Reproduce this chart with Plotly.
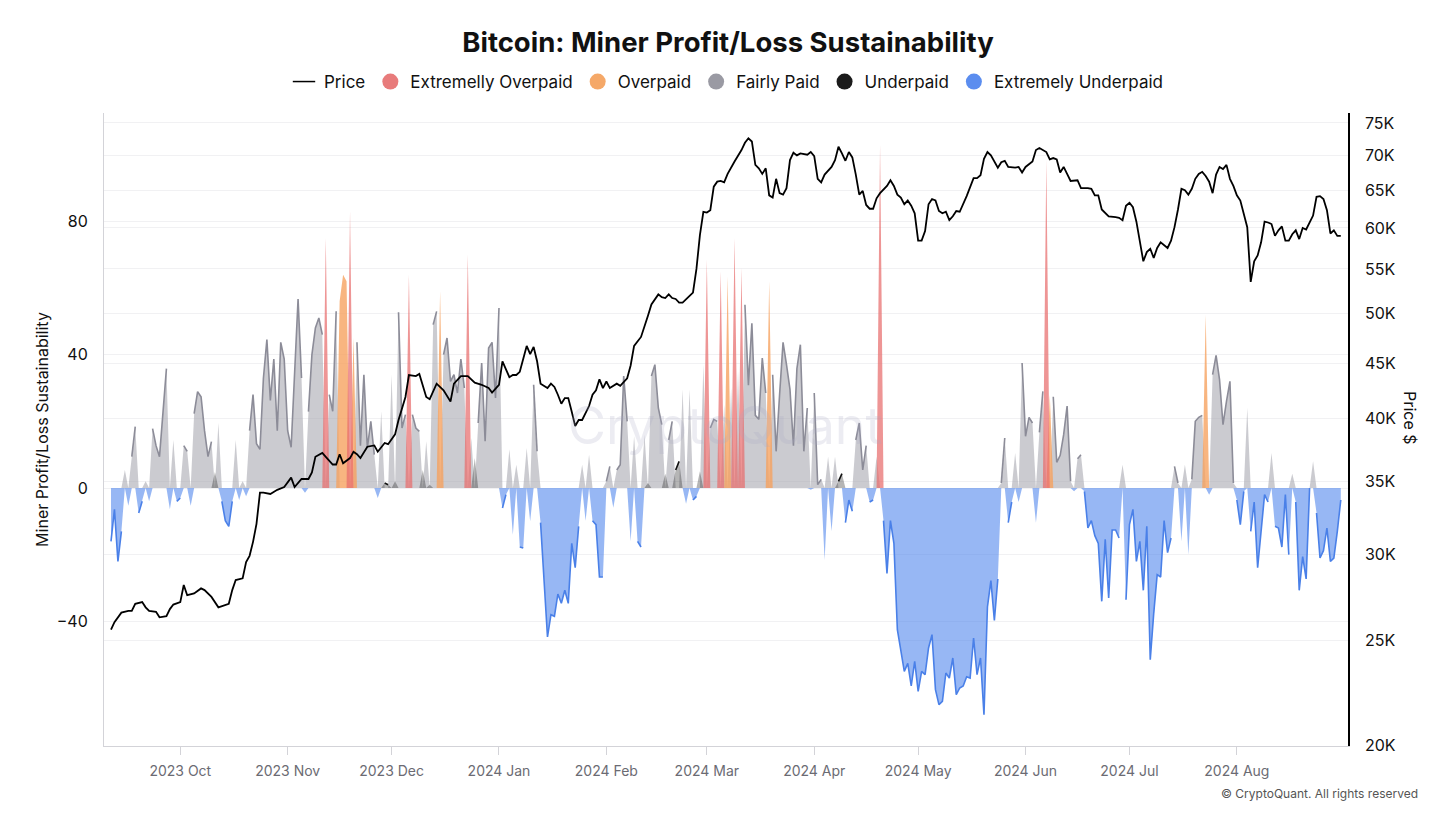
import pandas as pd
import plotly.graph_objects as go

# ---------------- data ----------------
start_date = "2023-09-11"

# Miner Profit/Loss Sustainability, one value per day from start_date
mpls = [
    -16, -6.4, -22, -13, 5.4, -5.3, 9.4, 18.4, -7.5, -4,
    2, -4, 17.8, 12.7, 9.4, 21.8, 35.8, -6.4, 14.4, -4,
    -3, 12.7, 11, -5.3, 22.3, 28.9, 27.4, 17.2, 9.4, 13.9,
    4.8, 19.5, -4, -9.8, -11.5, -4, 14.4, -3.6, 2, -2.5,
    17.2, 28, 13.3, 11.6, 33, 44.5, 26.3, 38.7, 17.2, 43.7,
    38.7, 17.2, 12.2, 33, 56.7, 33, -1.4, 22.9, 40, 48,
    51, 46, 75, 28, 23, 53, 56, 64, 62, 83,
    45, 43.7, 12.7, 34, 12, 20, 10, -3, 23, 1.5,
    1, 34, 2, 52.7, 18, 22, 64, 22, 18, 17,
    5.4, 14, 1, 49, 53, 59, 40, 45, 32, 34,
    28.5, 38.7, 30, 70, 15, 9, 19.5, 37.5, 14, 42,
    43.7, 27, 54, -6, -2, 11.6, -14, 7, -17.7, -18,
    12, -10, 31, 11, -10.4, -26.7, -44.7, -38, -38.5, -31.8,
    -34.6, -30.7, -34.6, -16.6, -23.9, -11.5, 7, -9.8, 10, -9.8,
    -11, -26.7, -26.7, 2, 6.5, -5.9, 5.4, 7, 33.6, 20,
    -16, 15.5, -16, -17.7, 16, 1.5, 33.6, 37, 24, 19,
    4.3, 14.4, 20, 5.4, 8, 29.6, -4.7, 29.6, -3.6, -2.5,
    5, 37, 68.5, 18, 20.6, 20, 65, 25, 63.5, 30,
    75, 35, 66, 55, 30.8, 49.4, 21.8, 20.6, 39, 28.5,
    62, 34, 11, 28, 43.7, 37, 29.6, 12.7, 35.8, 43,
    11, 24, -0.5, 28.5, 1, 2.6, -21.6, 9.4, -13, 9.4,
    2, 4.3, -10.4, -3.6, -7, 14.4, 19.5, 5.4, 12.7, -4.2,
    -3.6, 9.4, 103, -9.8, -25.6, -9.8, -16.6, -42.5, -49, -55,
    -52.6, -59.4, -52, -61, -55, -56, -48, -44, -60.5, -65,
    -64, -55.5, -57, -51, -62, -60, -59.4, -56.6, -57, -45,
    -56, -51, -68, -35.7, -27.8, -39.7, -27.3, 1.5, 15, -10.4,
    -4.2, 10.5, -4.2, 37.5, 15.5, 21.2, 19.5, -10.4, 16.7, 29,
    98.4, 28, 27.4, 7.7, 9.8, 16, 24.6, 2, -1, 8.8,
    10, -1, -12, -9.8, -14.3, -16.6, -34, -15.4, -33, -12.6,
    -12.6, -15, 7, -33.5, -11, -6.4, -22, -16, -30.7, -11.5,
    -51.5, -37.6, -26, -26.7, -9.8, -19.4, -15, 6.5, 1.5, -16,
    7, -20, 2.6, 20, 21.2, 21.8, 52, -2, 34, 39.8,
    32.5, 19, 26, 32, 1.5, -3.6, -11, -1, 24, -13,
    -4.2, -23.9, -12, -2, -4.2, 10.5, -11.5, -12, -17.7, -2,
    -20, 4.3, -4.2, -30.7, -20.6, -27.3, 0, 8, -7.5, -21,
    -18.8, -12, -22, -21, -13, -3.6,
]

# zone of each day: r=Extremelly Overpaid, o=Overpaid, g=Fairly Paid,
# k=Underpaid, b=Extremely Underpaid
zones = list(
    "bbbbgbggbb" "gbgggggbgb" "bggbgggggg" "kgbbbbgbgb" "gggggggggg"
    "ggggggbggg" "ggrgggooor" "oggggggbgk" "kgkgggrggg" "kgkggogggg"
    "gggrgkgggg" "gggbbgbgbb" "gbggbbbbbb" "bbbbbbgbgb" "bbbggbgggg"
    "bgbbgkgggg" "kggkkgbgbb" "kgrgggrgog" "rgrggggggg" "oggggggggg"
    "ggbgggbgbg" "kkbbbggggb" "bgrbbbbbbb" "bbbbbbbbbb" "bbbbbbbbbb"
    "bbbbbbbggb" "bgbggggbgg" "roggggggbg" "gbbbbbbbbb" "bbgbbbbbbb"
    "bbbbbbbggb" "gbggggobgg" "gggggbbbgb" "bbbbbgbbbb" "bgbbbbbgbb"
    "bbbbbb"
)

# BTC price readings: day offset from start_date, price in thousands USD
price_day = [
    0, 1, 3, 5, 6, 7, 9, 10, 11, 13, 14, 16, 17, 18, 20, 21, 22, 24, 26, 27,
    29, 31, 34, 35, 36, 38, 39, 40, 41, 42, 43, 44, 46, 48, 50, 52, 53, 55, 57, 58,
    59, 61, 62, 64, 65, 66, 67, 69, 70, 71, 72, 74, 76, 77, 79, 80, 82, 83, 85, 86,
    88, 89, 91, 92, 94, 96, 98, 99, 101, 103, 105, 107, 109, 110, 112, 113, 115, 116, 117, 118,
    120, 121, 122, 123, 124, 125, 126, 127, 128, 129, 130, 131, 132, 133, 134, 135, 136, 138, 139, 140,
    141, 142, 143, 144, 146, 147, 148, 149, 150, 151, 153, 154, 155, 156, 158, 159, 160, 161, 162, 163,
    164, 165, 166, 168, 169, 170, 171, 172, 173, 174, 175, 176, 177, 178, 180, 182, 183, 184, 185, 186,
    187, 188, 189, 190, 191, 192, 193, 194, 195, 196, 197, 198, 199, 201, 202, 203, 204, 205, 206, 208,
    209, 210, 211, 212, 213, 214, 215, 216, 217, 218, 219, 220, 221, 222, 224, 225, 226, 227, 228, 229,
    230, 231, 232, 233, 234, 235, 236, 237, 238, 239, 240, 241, 242, 243, 244, 245, 247, 248, 249, 250,
    251, 252, 253, 254, 255, 256, 257, 258, 259, 261, 262, 263, 264, 266, 267, 268, 270, 271, 272, 273,
    274, 275, 276, 277, 279, 280, 282, 283, 284, 285, 286, 288, 290, 291, 292, 293, 294, 295, 296, 297,
    298, 299, 300, 301, 302, 303, 304, 305, 306, 307, 308, 309, 310, 311, 312, 313, 314, 315, 316, 317,
    318, 319, 320, 321, 322, 323, 324, 325, 326, 327, 328, 329, 330, 331, 332, 333, 334, 335, 336, 337,
    338, 339, 340, 341, 342, 343, 344, 345, 346, 347, 348, 349, 350, 351, 352, 353, 354, 355,
]
price_k = [
    25.56, 25.97, 26.5, 26.6, 26.6, 27.0, 27.1, 26.8, 26.6, 26.55, 26.24, 26.3, 26.7, 26.96, 27.1, 28.1, 27.5, 27.6, 27.9, 27.8,
    27.4, 26.8, 27.0, 27.8, 28.4, 28.5, 29.5, 29.9, 30.8, 32.0, 34.2, 34.2, 34.1, 34.4, 34.6, 35.3, 34.6, 35.2, 35.2, 35.7,
    36.9, 37.2, 36.9, 36.3, 36.3, 37.1, 36.4, 36.8, 37.3, 37.1, 36.8, 37.7, 37.8, 37.3, 38.0, 37.9, 38.7, 39.9, 41.9, 43.9,
    43.8, 44.0, 41.9, 41.7, 43.1, 42.5, 41.5, 43.1, 43.8, 43.8, 43.2, 43.0, 42.7, 42.3, 43.0, 45.2, 43.7, 43.9, 43.9, 44.2,
    46.7, 45.9, 46.6, 45.2, 43.1, 42.9, 42.7, 43.1, 42.8, 42.1, 41.3, 41.8, 41.8, 40.6, 39.4, 39.9, 39.9, 41.1, 42.1, 42.5,
    43.5, 42.7, 43.3, 42.7, 43.1, 42.9, 43.3, 43.6, 44.8, 46.7, 47.6, 48.8, 49.8, 51.0, 52.1, 51.8, 51.7, 52.1, 51.7, 51.6,
    51.2, 51.2, 51.6, 52.3, 55.0, 59.1, 62.1, 62.0, 62.3, 65.5, 66.2, 66.3, 66.1, 67.3, 69.1, 70.8, 71.9, 72.6, 72.1, 68.6,
    68.1, 67.3, 68.1, 64.3, 64.0, 66.6, 64.6, 64.4, 65.3, 69.3, 70.4, 70.0, 70.3, 70.1, 70.5, 69.9, 66.6, 66.1, 67.2, 68.3,
    69.3, 71.3, 70.3, 69.2, 70.5, 69.7, 67.2, 64.4, 64.9, 63.0, 62.5, 62.5, 63.9, 64.6, 65.6, 66.4, 65.6, 64.4, 64.0, 63.1,
    63.6, 62.9, 61.9, 58.4, 58.4, 59.6, 63.1, 63.8, 63.6, 62.2, 61.9, 62.1, 61.0, 61.5, 62.2, 62.1, 64.2, 65.6, 66.7, 66.7,
    67.1, 69.5, 70.5, 70.0, 69.1, 68.2, 69.0, 69.2, 68.3, 68.2, 68.3, 67.5, 68.3, 69.1, 70.8, 71.1, 70.5, 69.4, 69.6, 69.4,
    67.5, 68.3, 67.3, 66.3, 66.4, 65.3, 65.3, 65.2, 64.3, 64.3, 62.4, 61.5, 61.4, 61.3, 61.0, 62.9, 63.3, 62.7, 60.8, 58.2,
    55.9, 57.0, 57.4, 56.3, 57.5, 58.2, 57.9, 57.5, 58.4, 60.1, 62.4, 65.2, 65.0, 64.4, 65.2, 66.6, 67.3, 67.6, 67.0, 66.2,
    64.6, 67.2, 68.3, 68.0, 68.6, 66.6, 65.6, 64.3, 63.6, 61.9, 60.1, 53.5, 55.9, 56.6, 58.2, 60.8, 60.7, 60.5, 59.0, 59.7,
    60.2, 58.4, 58.4, 59.2, 59.7, 58.6, 60.0, 59.8, 60.8, 61.6, 64.1, 64.2, 63.8, 62.3, 59.3, 59.7, 59.0, 59.0,
]

month_ticks = ["2023-10-01", "2023-11-01", "2023-12-01", "2024-01-01", "2024-02-01",
               "2024-03-01", "2024-04-01", "2024-05-01", "2024-06-01", "2024-07-01",
               "2024-08-01"]
month_labels = ["2023 Oct", "2023 Nov", "2023 Dec", "2024 Jan", "2024 Feb",
                "2024 Mar", "2024 Apr", "2024 May", "2024 Jun", "2024 Jul", "2024 Aug"]
price_ticks = [20000, 25000, 30000, 35000, 40000, 45000, 50000, 55000, 60000, 65000, 70000, 75000]
price_tick_labels = ["20K", "25K", "30K", "35K", "40K", "45K", "50K", "55K", "60K", "65K", "70K", "75K"]

# ---------------- figure ----------------
n = min(len(mpls), len(zones))
dates = pd.date_range(start_date, periods=n, freq="D")
price_dates = pd.Timestamp(start_date) + pd.to_timedelta(price_day, unit="D")
price = [p * 1000 for p in price_k]

FONT = "Inter, Roboto, 'Noto Sans', sans-serif"

zone_style = {
    # code: (legend name, fill colour, line colour, legend colour)
    "b": ("Extremely Underpaid", "rgba(72,128,235,0.57)", "#4a80e8", "#5b8def"),
    "g": ("Fairly Paid", "rgba(168,168,176,0.6)", "#8c8c98", "#9a9aa3"),
    "k": ("Underpaid", "rgba(30,30,30,0.33)", "#111111", "#1b1b1b"),
    "o": ("Overpaid", "rgba(246,160,92,0.78)", None, "#f5a868"),
    "r": ("Extremelly Overpaid", "rgba(232,108,108,0.72)", None, "#e87b7b"),
}

fig = go.Figure()

# filled areas (value where zone applies, zero elsewhere)
for code in ["b", "g", "k", "o", "r"]:
    name, fill_c, line_c, _ = zone_style[code]
    y_fill = [mpls[i] if zones[i] == code else 0 for i in range(n)]
    fig.add_trace(go.Scatter(
        x=dates, y=y_fill, mode="lines", fill="tozeroy", fillcolor=fill_c,
        line=dict(width=0, color=fill_c), showlegend=False, hoverinfo="skip",
    ))

# strokes along the tops of continuous runs
for code in ["b", "g", "k"]:
    name, fill_c, line_c, _ = zone_style[code]
    y_line = [mpls[i] if zones[i] == code else None for i in range(n)]
    fig.add_trace(go.Scatter(
        x=dates, y=y_line, mode="lines", connectgaps=False,
        line=dict(width=1.6, color=line_c), showlegend=False, hoverinfo="skip",
    ))

# price line on the right log axis
fig.add_trace(go.Scatter(
    x=price_dates, y=price, mode="lines", yaxis="y2",
    line=dict(color="#000000", width=1.8), showlegend=False, name="Price",
))

# legend entries
fig.add_trace(go.Scatter(
    x=[None], y=[None], mode="markers", name="Price",
    marker=dict(symbol="line-ew-open", size=18, color="#000",
                line=dict(width=1.5, color="#000")),
))
for code in ["r", "o", "g", "k", "b"]:
    name, _, _, leg_c = zone_style[code]
    fig.add_trace(go.Scatter(
        x=[None], y=[None], mode="markers", name=name,
        marker=dict(symbol="circle", size=16, color=leg_c),
    ))

plot_l, plot_r, plot_t, plot_b = 104, 1348, 113, 746
W, H = 1456, 819
pw, ph = plot_r - plot_l, plot_b - plot_t


def px_x(px):
    return (px - plot_l) / pw


def px_y(py):
    return (plot_b - py) / ph


fig.update_layout(
    width=W, height=H, autosize=False,
    margin=dict(l=plot_l, r=W - plot_r, t=plot_t, b=H - plot_b),
    paper_bgcolor="white", plot_bgcolor="white",
    font=dict(family=FONT, color="#111"),
    title=dict(
        text="<b>Bitcoin: Miner Profit/Loss Sustainability</b>",
        x=0.5, xanchor="center", y=1 - 42 / H, yanchor="middle",
        font=dict(size=27.5, color="#111", family=FONT),
    ),
    legend=dict(
        orientation="h", x=0.5, xanchor="center", y=px_y(82), yanchor="middle",
        font=dict(size=17, color="#111"), itemclick=False, itemdoubleclick=False,
        bgcolor="rgba(0,0,0,0)", itemwidth=30,
    ),
    xaxis=dict(
        type="date", range=["2023-09-08 23:30", "2024-09-02 02:00"],
        tickvals=month_ticks, ticktext=month_labels,
        ticks="outside", ticklen=8, tickcolor="#d3d3d8", tickwidth=1,
        showline=True, linecolor="#d3d3d8", linewidth=1,
        showgrid=False, zeroline=False,
        tickfont=dict(size=14, color="#6b6b73"), ticklabelstandoff=4,
    ),
    yaxis=dict(
        range=[-77.4, 112.5], tickvals=[-40, 0, 40, 80],
        showgrid=True, gridcolor="#f1f1f3", gridwidth=1, zeroline=False,
        showline=True, linecolor="#d3d3d8", linewidth=1,
        ticks="", tickfont=dict(size=16, color="#111"), ticklabelstandoff=12,
        title=dict(text="Miner Profit/Loss Sustainability",
                   font=dict(size=16, color="#111"), standoff=4),
    ),
    yaxis2=dict(
        overlaying="y", side="right", type="log",
        range=[4.3002, 4.8842], tickvals=price_ticks, ticktext=price_tick_labels,
        showgrid=True, gridcolor="#f1f1f3", gridwidth=1, zeroline=False,
        showline=True, linecolor="#000", linewidth=1.5,
        ticks="", tickfont=dict(size=16, color="#111"), ticklabelstandoff=12,
    ),
    annotations=[
        dict(text="Price $", textangle=90, x=px_x(1410), y=px_y(418),
             xref="paper", yref="paper", xanchor="center", yanchor="middle",
             showarrow=False, font=dict(size=16, color="#111")),
        dict(text="CryptoQuant", x=px_x(725), y=px_y(425), xref="paper", yref="paper",
             xanchor="center", yanchor="middle",
             showarrow=False, font=dict(size=52, color="rgba(170,170,195,0.22)")),
        dict(text="© CryptoQuant. All rights reserved", x=px_x(1420), y=px_y(794),
             xref="paper", yref="paper", xanchor="right", yanchor="middle",
             showarrow=False, font=dict(size=12, color="#555")),
    ],
)

fig.write_html("out.html")
